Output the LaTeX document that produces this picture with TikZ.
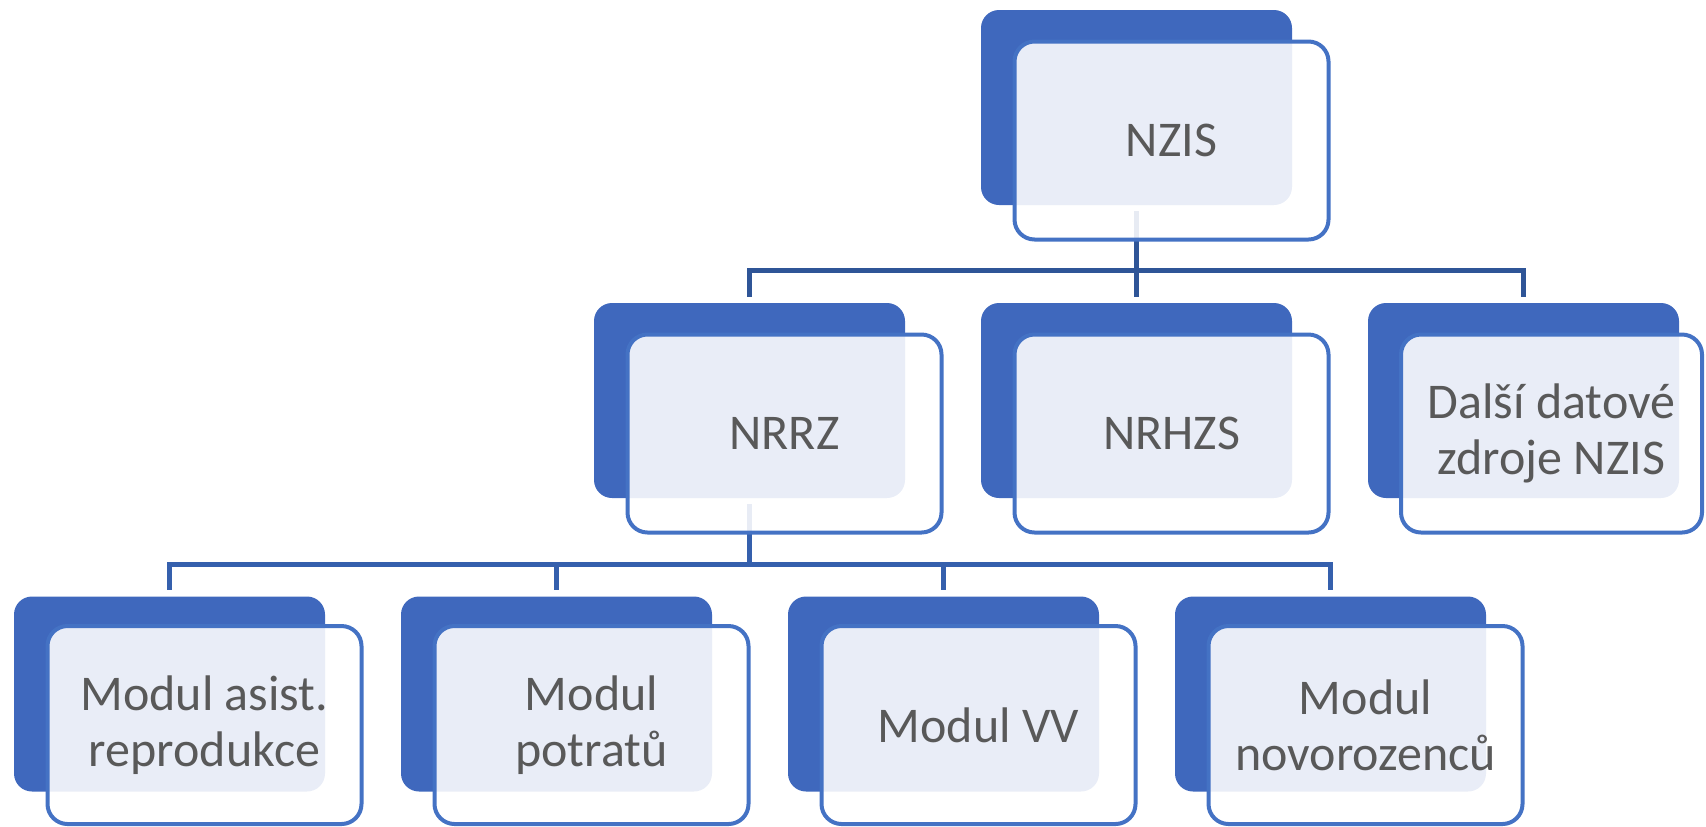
\documentclass[tikz,border=0pt]{standalone}
\usepackage{fontspec}
\setmainfont{Carlito}
\definecolor{backblue}{RGB}{63,104,189}
\definecolor{frontline}{RGB}{68,114,196}
\definecolor{connA}{RGB}{47,85,151}
\definecolor{connB}{RGB}{53,96,173}
\definecolor{txtgray}{RGB}{89,89,89}
\tikzset{
  backbox/.style={draw=none, fill=backblue, rounded corners=9pt, minimum width=155.5pt, minimum height=97.5pt, inner sep=0pt, shape=rectangle},
  frontbox/.style={draw=frontline, line width=2pt, fill=white, fill opacity=0.885, text opacity=1, rounded corners=10pt, minimum width=157pt, minimum height=99pt, inner sep=0pt, shape=rectangle, align=center, text=txtgray, font=\fontsize{25pt}{28pt}\selectfont},
  connone/.style={draw=connA, line width=2.5pt},
  conntwo/.style={draw=connB, line width=2.5pt}
}
\begin{document}
\begin{tikzpicture}[x=0.5pt, y=-0.5pt]
\useasboundingbox (0,0) rectangle (1706,826);
\clip (0,0) rectangle (1706,826);
% back boxes
\node[backbox] (b1) at (1136.5,107.5) {};
\node[backbox] (b2) at (749.5,400.5) {};
\node[backbox] (b3) at (1136.5,400.5) {};
\node[backbox] (b4) at (1523.5,400.5) {};
\node[backbox] (b5) at (169.5,694) {};
\node[backbox] (b6) at (556.5,694) {};
\node[backbox] (b7) at (943.5,694) {};
\node[backbox] (b8) at (1330.5,694) {};
% bus coordinates
\coordinate (busA) at (1136.5,270);
\coordinate (busB) at (749.5,564);
% connectors level 1
\foreach \c in {b2,b3,b4}{
  \draw[connone] ([yshift=-3pt]b1.south) -- (b1.south |- busA) -| ([yshift=3pt]\c.north);
}
% connectors level 2
\foreach \c in {b5,b6,b7,b8}{
  \draw[conntwo] ([yshift=-3pt]b2.south) -- (b2.south |- busB) -| ([yshift=3pt]\c.north);
}
% front boxes
\node[frontbox] (f1) at (1171.5,140.5) {NZIS};
\node[frontbox] (f2) at (784.5,433.5) {NRRZ};
\node[frontbox] (f3) at (1171.5,433.5) {NRHZS};
\node[frontbox, minimum width=150.5pt] (f4) at (1551.5,433.5) {Další datové\\zdroje NZIS};
\node[frontbox] (f5) at (204.5,725) {Modul asist.\\reprodukce};
\node[frontbox] (f6) at (591.5,725) {Modul\\potratů};
\node[frontbox] (f7) at (978.5,725) {Modul VV};
\node[frontbox] (f8) at (1365.5,725) {Modul\\novorozenců};
\end{tikzpicture}
\end{document}
